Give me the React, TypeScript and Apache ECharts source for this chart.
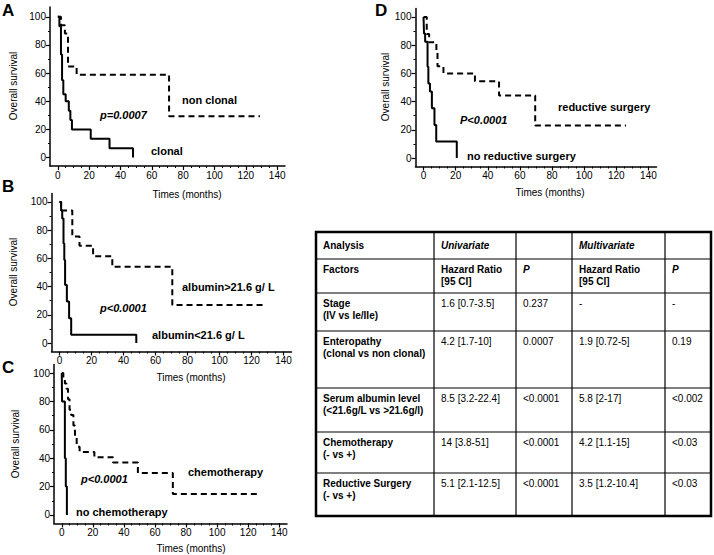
import React, { useEffect, useRef } from "react";
import * as echarts from "echarts";

const FONT = "'Liberation Sans', Arial, Helvetica, sans-serif";

// Axis ticks
const xTickValues = [0, 20, 40, 60, 80, 100, 120, 140];
const xMinorValues = [5, 10, 15, 25, 30, 35, 45, 50, 55, 65, 70, 75, 85, 90, 95, 105, 110, 115, 125, 130, 135];
const yTickValues = [0, 20, 40, 60, 80, 100];
const yMinorValues = [10, 30, 50, 70, 90];

// Panel A: enteropathy
const clonal: [number, number][] = [[0, 100], [1, 93.3], [2, 73.3], [2.7, 55], [3.5, 45], [5, 40], [7, 33.3], [8, 26.7], [9, 20], [21, 13.3], [33, 6.7], [48, 0]];
const nonClonal: [number, number][] = [[0, 100], [2, 94.1], [4.5, 88.2], [6.5, 64.7], [12, 58.8], [71, 29.4], [129, 29.4]];

// Panel B: serum albumin
const albuminLow: [number, number][] = [[0, 100], [1, 94.1], [1.7, 88.2], [2.5, 70.6], [3, 58.8], [3.5, 41.2], [4.6, 29.4], [6, 17.6], [7.3, 5.9], [48, 0]];
const albuminHigh: [number, number][] = [[0, 100], [1, 94], [8, 75.5], [12.5, 69], [21, 61.5], [33, 54], [70.5, 27], [127, 27]];

// Panel C: chemotherapy
const noChemo: [number, number][] = [[0, 100], [0.2, 80], [2, 40], [2.6, 20], [3.3, 0]];
const chemo: [number, number][] = [[0, 100], [1, 96.3], [2, 92.6], [3, 88.9], [4, 81.5], [5, 74.1], [6, 70.4], [7.5, 63], [8.5, 55.6], [9.6, 48.1], [11.5, 44.4], [21, 40.7], [33, 37], [49, 29.6], [71.5, 14.8], [127, 14.8]];

// Panel D: reductive surgery
const noSurgery: [number, number][] = [[0, 100], [0.3, 88.2], [1, 82.4], [2.5, 64.7], [3, 52.9], [4, 47.1], [5.2, 35.3], [6.8, 23.5], [7.9, 11.8], [20.7, 0]];
const surgery: [number, number][] = [[0, 100], [2, 88], [3.5, 82], [8, 75], [8.7, 65], [12.4, 60], [32, 54.4], [47, 44.4], [69.5, 23], [126, 23]];

// Table
const tableHeader = ["Analysis", "Univariate", "", "Multivariate", ""];
const tableSubHeader = ["Factors", "Hazard Ratio\n[95 CI]", "P", "Hazard Ratio\n[95 CI]", "P"];
const factors = ["Stage", "Enteropathy", "Serum albumin level", "Chemotherapy", "Reductive Surgery"];
const factorDetails = ["(IV vs Ie/IIe)", "(clonal vs non clonal)", "(<21.6g/L vs >21.6g/l)", "(- vs +)", "(- vs +)"];
const uniHR = ["1.6 [0.7-3.5]", "4.2 [1.7-10]", "8.5 [3.2-22.4]", "14 [3.8-51]", "5.1 [2.1-12.5]"];
const uniP = ["0.237", "0.0007", "<0.0001", "<0.0001", "<0.0001"];
const multiHR = ["-", "1.9 [0.72-5]", "5.8 [2-17]", "4.2 [1.1-15]", "3.5 [1.2-10.4]"];
const multiP = ["-", "0.19", "<0.002", "<0.03", "<0.03"];

// Layout (positions only)
const panels = [
  { letter: "A", letterPos: [2, 10], grid: { left: 50, top: 7, width: 235, height: 159 }, yMax: 107, solid: clonal, dashed: nonClonal,
    yTitle: [13, 86], xTitle: [187, 194],
    notes: [
      { t: "non clonal", x: 182, y: 100, it: false },
      { t: "p=0.0007", x: 100, y: 115, it: true },
      { t: "clonal", x: 151, y: 151, it: false },
    ] },
  { letter: "B", letterPos: [2, 186], grid: { left: 51.5, top: 193.5, width: 240, height: 158 }, yMax: 106, solid: albuminLow, dashed: albuminHigh,
    yTitle: [13, 272], xTitle: [191, 377],
    notes: [
      { t: "albumin>21.6 g/ L", x: 182, y: 287, it: false },
      { t: "p<0.0001", x: 100, y: 308, it: true },
      { t: "albumin<21.6 g/ L", x: 152, y: 335, it: false },
    ] },
  { letter: "C", letterPos: [2, 367], grid: { left: 54, top: 364.5, width: 233, height: 159 }, yMax: 106, solid: noChemo, dashed: chemo,
    yTitle: [15, 444], xTitle: [191, 548],
    notes: [
      { t: "chemotherapy", x: 188, y: 472, it: false },
      { t: "p<0.0001", x: 81, y: 479, it: true },
      { t: "no chemotherapy", x: 76, y: 512, it: false },
    ] },
  { letter: "D", letterPos: [375, 10], grid: { left: 415.5, top: 8.5, width: 241, height: 158 }, yMax: 106, solid: noSurgery, dashed: surgery,
    yTitle: [385, 87], xTitle: [550, 192],
    notes: [
      { t: "reductive surgery", x: 558, y: 107, it: false },
      { t: "P<0.0001", x: 460, y: 120, it: true },
      { t: "no reductive surgery", x: 467, y: 156, it: false },
    ] },
];

const colX = [316, 434, 516, 572, 665, 711];
const rowY = [232, 259, 293, 331, 388, 432, 473, 516];

function txt(text: string, x: number, y: number, size: number, weight: string, style: string, align = "left", vAlign = "middle", extra: any = {}) {
  return {
    type: "text",
    x, y,
    silent: true,
    ...extra,
    style: {
      text, x: 0, y: 0,
      fill: "#000",
      fontSize: size, fontWeight: weight, fontStyle: style, fontFamily: FONT,
      align, verticalAlign: vAlign,
      textAlign: align, textVerticalAlign: vAlign,
      lineHeight: 12.5,
    },
  };
}

export default function App() {
  const ref = useRef<HTMLDivElement>(null);
  useEffect(() => {
    if (!ref.current) return;
    const chart = echarts.init(ref.current, null, { renderer: "svg" });
    const grids: any[] = [];
    const xAxes: any[] = [];
    const yAxes: any[] = [];
    const series: any[] = [];
    const graphics: any[] = [];

    panels.forEach((p, i) => {
      grids.push({ ...p.grid, containLabel: false });
      const axLine = { show: true, onZero: false, lineStyle: { color: "#000", width: 1.5 } };
      xAxes.push({
        gridIndex: i, type: "value", min: -5, max: 145, position: "bottom",
        axisLine: axLine,
        axisTick: { show: true, customValues: xTickValues, length: 4, lineStyle: { color: "#000", width: 1.2 } },
        axisLabel: { show: true, customValues: xTickValues, fontSize: 10, color: "#000", fontFamily: FONT, margin: 4 },
        splitLine: { show: false },
      });
      xAxes.push({
        gridIndex: i, type: "value", min: -5, max: 145, position: "bottom",
        axisLine: { show: false, onZero: false },
        axisTick: { show: true, customValues: xMinorValues, length: 2, lineStyle: { color: "#000", width: 1 } },
        axisLabel: { show: false },
        splitLine: { show: false },
      });
      yAxes.push({
        gridIndex: i, type: "value", min: -6, max: p.yMax, position: "left",
        axisLine: axLine,
        axisTick: { show: true, customValues: yTickValues, length: 4, lineStyle: { color: "#000", width: 1.2 } },
        axisLabel: { show: true, customValues: yTickValues, fontSize: 10, color: "#000", fontFamily: FONT, margin: 4 },
        splitLine: { show: false },
      });
      yAxes.push({
        gridIndex: i, type: "value", min: -6, max: p.yMax, position: "left",
        axisLine: { show: false, onZero: false },
        axisTick: { show: true, customValues: yMinorValues, length: 2, lineStyle: { color: "#000", width: 1 } },
        axisLabel: { show: false },
        splitLine: { show: false },
      });
      series.push({
        type: "line", xAxisIndex: 2 * i, yAxisIndex: 2 * i, data: p.solid, step: "end",
        symbol: "none", silent: true, clip: false,
        lineStyle: { color: "#000", width: 2, type: "solid" },
      });
      series.push({
        type: "line", xAxisIndex: 2 * i, yAxisIndex: 2 * i, data: p.dashed, step: "end",
        symbol: "none", silent: true, clip: false,
        lineStyle: { color: "#000", width: 2, type: [6, 4] },
      });
      graphics.push(txt(p.letter, p.letterPos[0], p.letterPos[1], 17, "bold", "normal"));
      graphics.push(txt("Overall survival", p.yTitle[0], p.yTitle[1], 10, "normal", "normal", "center", "middle", { rotation: Math.PI / 2 }));
      graphics.push(txt("Times (months)", p.xTitle[0], p.xTitle[1], 10, "normal", "normal", "center", "middle"));
      p.notes.forEach((n) => {
        graphics.push(txt(n.t, n.x, n.y, 11, "bold", n.it ? "italic" : "normal"));
      });
    });

    // Table
    graphics.push({
      type: "rect", silent: true,
      shape: { x: colX[0], y: rowY[0], width: colX[5] - colX[0], height: rowY[7] - rowY[0] },
      style: { fill: "none", stroke: "#000", lineWidth: 2.5 },
    });
    for (let r = 1; r < rowY.length - 1; r++) {
      graphics.push({ type: "line", silent: true, shape: { x1: colX[0], y1: rowY[r], x2: colX[5], y2: rowY[r] }, style: { stroke: "#000", lineWidth: 1.2 } });
    }
    for (let c = 1; c < colX.length - 1; c++) {
      graphics.push({ type: "line", silent: true, shape: { x1: colX[c], y1: rowY[0], x2: colX[c], y2: rowY[7] }, style: { stroke: "#000", lineWidth: 1.2 } });
    }
    const pad = 7;
    tableHeader.forEach((h, c) => {
      if (!h) return;
      graphics.push(txt(h, colX[c] + pad, (rowY[0] + rowY[1]) / 2, 10, "bold", c === 0 ? "normal" : "italic"));
    });
    tableSubHeader.forEach((h, c) => {
      graphics.push(txt(h, colX[c] + pad, rowY[1] + 4, 10, "bold", h === "P" ? "italic" : "normal", "left", "top"));
    });
    factors.forEach((f, r) => {
      const top = rowY[r + 2] + 4;
      graphics.push(txt(f + "\n" + factorDetails[r], colX[0] + pad, top, 10, "bold", "normal", "left", "top"));
      graphics.push(txt(uniHR[r], colX[1] + pad, top, 10, "normal", "normal", "left", "top"));
      graphics.push(txt(uniP[r], colX[2] + pad, top, 10, "normal", "normal", "left", "top"));
      graphics.push(txt(multiHR[r], colX[3] + pad, top, 10, "normal", "normal", "left", "top"));
      graphics.push(txt(multiP[r], colX[4] + pad, top, 10, "normal", "normal", "left", "top"));
    });

    chart.setOption({
      animation: false,
      backgroundColor: "#fff",
      grid: grids,
      xAxis: xAxes,
      yAxis: yAxes,
      series,
      graphic: { elements: graphics },
    });
    return () => chart.dispose();
  }, []);
  return (
    <div
      ref={ref}
      style={{ position: "fixed", left: 0, top: 0, width: 714, height: 555, background: "#fff" }}
    />
  );
}
